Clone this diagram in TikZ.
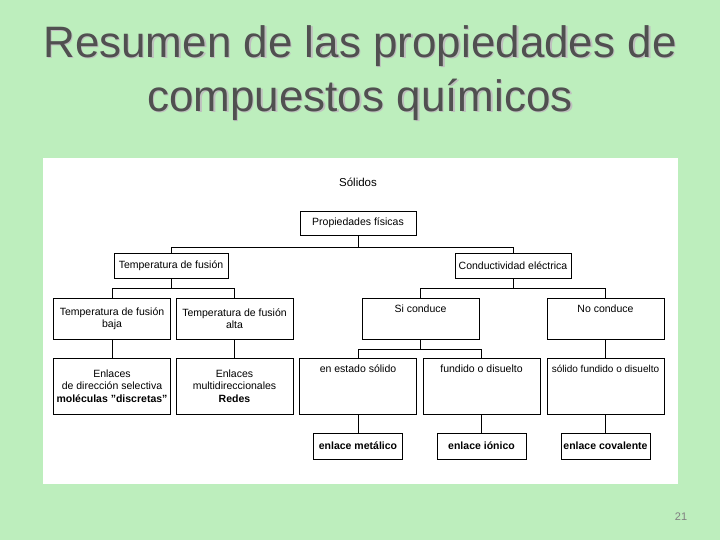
\documentclass[tikz,border=0pt]{standalone}
\usepackage{fontspec}
\setmainfont{Liberation Sans}
\definecolor{fondo}{HTML}{BDEEBD}
\definecolor{titulo}{HTML}{505050}
\begin{document}
\begin{tikzpicture}[x=1pt,y=-1pt,
  caja/.style={draw,thin,fill=white,align=center,inner sep=2pt,font=\fontsize{10.5}{12.5}\selectfont},
  baja/.style={caja,minimum width=117,minimum height=41},
  alta/.style={caja,minimum width=117,minimum height=56},
  arriba/.style={text height=12pt,text depth=#1},
  enlace/.style={caja,minimum width=89,minimum height=26,font=\fontsize{10.5}{12.5}\selectfont\bfseries}]
\fill[fondo] (0,0) rectangle (720,540);
\useasboundingbox (0,0) rectangle (720,540);
\foreach \dx/\dy/\c in {1.5/1.5/gray!50,0/0/titulo}
  \node[text=\c,align=center,font=\fontsize{44}{54}\selectfont] at (360+\dx,73+\dy)
    {Resumen de las propiedades de\\compuestos químicos};
\fill[white] (43,158) rectangle (678,484);
\node[font=\fontsize{11.5}{13}\selectfont] (solidos) at (358,182) {Sólidos};
\node[caja,minimum width=116,minimum height=24] (prop) at (358,223) {Propiedades físicas};
\node[caja,minimum width=114,minimum height=25] (temp) at (171,266) {Temperatura de fusión};
\node[caja,minimum width=116,minimum height=25] (cond) at (513,266) {Conductividad eléctrica};
\node[baja] (tbaja) at (112,318.5) {Temperatura de fusión\\baja};
\node[baja] (talta) at (234.5,318.5) {Temperatura de fusión\\alta};
\node[baja,arriba=25pt] (si) at (420.5,318.5) {Si conduce};
\node[baja,arriba=25pt] (no) at (605.5,318.5) {No conduce};
\node[alta] (selectiva) at (112,386) {Enlaces\\de dirección selectiva\\\textbf{moléculas "discretas"}};
\node[alta] (multi) at (234.5,386) {Enlaces\\multidireccionales\\\textbf{Redes}};
\node[alta,arriba=40pt] (estado) at (358,386) {en estado sólido};
\node[alta,arriba=40pt] (fundido) at (481.5,386) {fundido o disuelto};
\node[alta,arriba=40pt,inner xsep=0pt,font=\fontsize{10}{12}\selectfont] (solfund) at (605.5,386) {sólido fundido o disuelto};
\node[enlace] (metal) at (358,446) {enlace metálico};
\node[enlace] (ionico) at (481.5,446) {enlace iónico};
\node[enlace] (covalente) at (605.5,446) {enlace covalente};
% conectores
\draw[thin] (prop.south) -- ++(0,12) -| (temp.north);
\draw[thin] (prop.south) -- ++(0,12) -| (cond.north);
\draw[thin] (temp.south) -- ++(0,9) -| (tbaja.north);
\draw[thin] (temp.south) -- ++(0,9) -| (talta.north);
\draw[thin] (cond.south) -- ++(0,9) -| (si.north);
\draw[thin] (cond.south) -- ++(0,9) -| (no.north);
\draw[thin] (si.south) -- ++(0,10) -| (estado.north);
\draw[thin] (si.south) -- ++(0,10) -| (fundido.north);
\draw[thin] (tbaja) -- (selectiva);
\draw[thin] (talta) -- (multi);
\draw[thin] (no) -- (solfund);
\draw[thin] (estado) -- (metal);
\draw[thin] (fundido) -- (ionico);
\draw[thin] (solfund) -- (covalente);
\node[text=gray,font=\fontsize{11}{13}\selectfont] (pagina) at (681,517) {21};
\end{tikzpicture}
\end{document}
